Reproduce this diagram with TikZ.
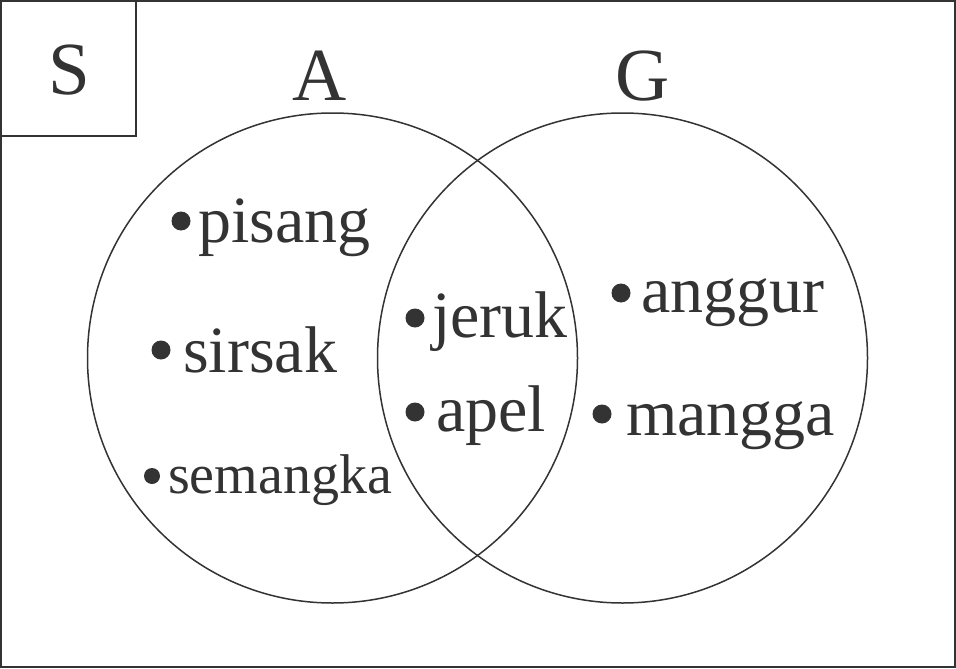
\documentclass[tikz,border=0pt]{standalone}
\usepackage{fontspec}
\setmainfont{Liberation Serif}
\usepackage{tikz}
\usetikzlibrary{positioning}
\definecolor{venn-ink}{HTML}{333333}
\tikzset{
    member/.style={anchor=base west, inner sep=0pt, text=venn-ink, font=\fontsize{66}{70}\selectfont},
    dot/.style={circle, fill=venn-ink, inner sep=0pt, minimum size=19pt},
    setname/.style={anchor=base, inner sep=0pt, text=venn-ink, font=\fontsize{75}{80}\selectfont}
}

\begin{document}
\begin{tikzpicture}[x=1pt, y=-1pt]
    \useasboundingbox (0,0) rectangle (956,669);
    % universe and its label box
    \draw[venn-ink, line width=2pt] (1,1) rectangle (955,667);
    \draw[venn-ink, line width=1.5pt] (1,1) rectangle (136,136);
    \node[setname] (labelS) at (69,95) {S};
    % the two sets
    \draw[venn-ink, line width=1.5pt] (332.5,358) circle (245);
    \draw[venn-ink, line width=1.5pt] (622.5,358) circle (245);
    \node[setname] (labelA) at (320,100) {A};
    \node[setname] (labelG) at (643,100) {G};
    % members of A only
    \node[dot] (dotpisang) at (181,221) {};
    \node[member] (pisang) at (198,242) {pisang};
    \node[dot] (dotsirsak) at (161,350) {};
    \node[member] (sirsak) at (183,372) {sirsak};
    \node[dot, minimum size=16pt] (dotsemangka) at (152,476) {};
    \node[member, font=\fontsize{56}{60}\selectfont] (semangka) at (168,493) {semangka};
    % members of both
    \node[dot] (dotjeruk) at (415,318) {};
    \node[member] (jeruk) at (432,337) {jeruk};
    \node[dot] (dotapel) at (415,412) {};
    \node[member] (apel) at (436,431) {apel};
    % members of G only
    \node[dot] (dotanggur) at (621,293) {};
    \node[member] (anggur) at (641,312) {anggur};
    \node[dot] (dotmangga) at (602,414) {};
    \node[member] (mangga) at (626,435) {mangga};
\end{tikzpicture}
\end{document}
